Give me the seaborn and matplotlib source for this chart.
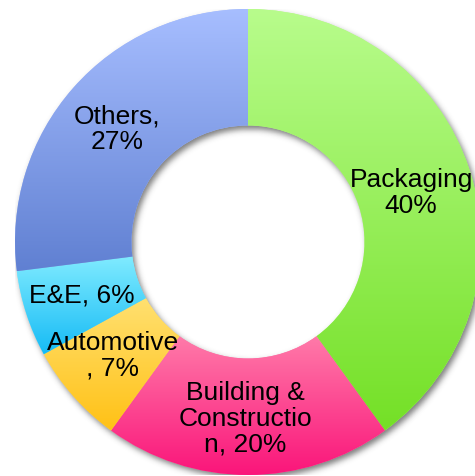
import numpy as np
import matplotlib
matplotlib.use("Agg")
import matplotlib.pyplot as plt
from matplotlib.colors import LinearSegmentedColormap
import seaborn as sns

sns.set_theme(style="white")
plt.rcParams["font.family"] = ["Liberation Sans", "DejaVu Sans"]

# Market share by end-use segment
segments = ["Packaging", "Building & Construction", "Automotive", "E&E", "Others"]
shares = [40, 20, 7, 6, 27]
labels = ["Packaging\n40%", "Building &\nConstructio\nn, 20%", "Automotive\n, 7%",
          "E&E, 6%", "Others,\n27%"]
# (top, bottom) colours of each segment's vertical gradient
top_colors = ["#b8fc8c", "#ff7aa9", "#ffe070", "#80ebff", "#a7beff"]
bottom_colors = ["#74e026", "#fa157a", "#ffc115", "#16bbf5", "#6080d2"]
# label anchor positions in axis units (radius 1 = outer edge)
label_xy = [(0.70, 0.215), (-0.013, -0.755), (-0.58, -0.485), (-0.712, -0.225), (-0.562, 0.49)]

W, H, DPI = 475, 477, 100
R_PX = 233.0
CX, CY = 248.0, 243.0
HOLE = 0.5

fig = plt.figure(figsize=(W / DPI, H / DPI), dpi=DPI)
fig.patch.set_facecolor("white")
ax = fig.add_axes([(CX - R_PX) / W, (H - CY - R_PX) / H, 2 * R_PX / W, 2 * R_PX / H])
ax.set_xlim(-1, 1)
ax.set_ylim(-1, 1)
ax.set_aspect("equal")
ax.axis("off")

# soft drop shadow under the ring
n = 700
lim = 1.12
g = np.linspace(-lim, lim, n)
xx, yy = np.meshgrid(g, g[::-1])
dx, dy = 2.0 / R_PX, -3.5 / R_PX
rr = np.hypot(xx - dx, yy - dy)
mask = ((rr <= 1.0) & (rr >= HOLE)).astype(float)
sigma = 3.0 / R_PX / (2 * lim / n)
k = np.arange(-int(4 * sigma) - 1, int(4 * sigma) + 2)
kern = np.exp(-0.5 * (k / sigma) ** 2)
kern /= kern.sum()
blur = np.apply_along_axis(lambda r: np.convolve(r, kern, mode="same"), 1, mask)
blur = np.apply_along_axis(lambda c: np.convolve(c, kern, mode="same"), 0, blur)
shadow = np.zeros((n, n, 4))
shadow[..., :3] = 0.22
shadow[..., 3] = blur * 0.65
ax.imshow(shadow, extent=(-lim, lim, -lim, lim), zorder=0, interpolation="bilinear")

wedges, _ = ax.pie(shares, startangle=90, counterclock=False, radius=1.0,
                   colors=top_colors,
                   wedgeprops=dict(width=1 - HOLE, linewidth=0, edgecolor="none"))
ax.set_xlim(-1, 1)
ax.set_ylim(-1, 1)

fig.canvas.draw()
grad = np.linspace(0, 1, 256).reshape(-1, 1)
for w, ct, cb in zip(wedges, top_colors, bottom_colors):
    w.set_zorder(1)
    bb = w.get_path().get_extents(w.get_patch_transform())
    cmap = LinearSegmentedColormap.from_list("seg", [ct, cb])
    im = ax.imshow(grad, cmap=cmap, aspect="auto", origin="upper",
                   extent=(bb.x0, bb.x1, bb.y0, bb.y1), zorder=2,
                   interpolation="bilinear")
    im.set_clip_path(w)

for (x, y), text in zip(label_xy, labels):
    ax.text(x, y, text, ha="center", va="center", fontsize=19, color="black",
            linespacing=1.08, zorder=5)

ax.set_xlim(-1, 1)
ax.set_ylim(-1, 1)
fig.savefig("out.png", dpi=DPI, facecolor="white")
